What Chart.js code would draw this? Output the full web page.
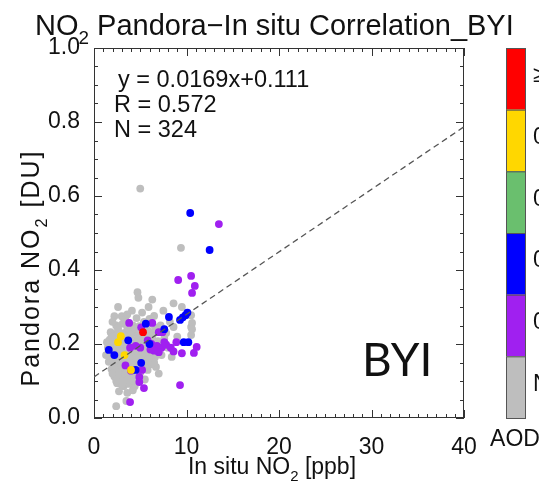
<!DOCTYPE html>
<html>
<head>
<meta charset="utf-8">
<script src="https://cdn.jsdelivr.net/npm/chart.js@4/dist/chart.umd.min.js"></script>
<style>
  body { margin: 0; background: #fff; }
  canvas { display: block; }
</style>
</head>
<body>
<canvas id="chart" width="539" height="481"></canvas>
<script>
// regression stats printed on the plot
const slope = 0.0169;
const intercept = 0.111;
const statLines = ['y = 0.0169x+0.111', 'R = 0.572', 'N = 324'];

const xTicks = [0, 10, 20, 30, 40];
const yTicks = [0, 0.2, 0.4, 0.6, 0.8, 1.0];

// AOD colour bar (top to bottom)
const aodLabels = ['\u22650.5', '0.4', '0.3', '0.2', '0.1', 'NaN'];
const aodColors = ['#ff0000', '#ffd700', '#6abf6e', '#0000ff', '#a020f0', '#bebebe'];

// points per AOD class, [in situ ppb, pandora DU]
const naPoints = [
  [5.0,0.62],[9.4,0.46],[4.7,0.34],[4.8,0.325],[2.6,0.30],[6.3,0.32],[8.6,0.31],[9.5,0.30],
  [2.2,0.275],[3.0,0.275],[6.5,0.276],[10.5,0.278],[5.4,0.26],[10.5,0.246],[8.6,0.246],
  [10.6,0.257],[10.6,0.24],[1.8,0.232],[10.5,0.224],[6.7,0.138],[3.2,0.086],[3.5,0.046],
  [2.4,0.032],[7.5,0.29],[5.9,0.30],[4.1,0.29],[3.6,0.28],[2.2,-0.06],
  [2.4,0.25],[3.1,0.255],[4.2,0.25],[4.9,0.248],[5.8,0.252],[6.6,0.245],[7.2,0.25],
  [1.9,0.228],[2.6,0.235],[3.3,0.23],[3.9,0.238],[4.5,0.232],[5.1,0.226],[5.9,0.234],
  [6.4,0.228],[7.0,0.236],[7.8,0.23],
  [1.7,0.212],[2.3,0.208],[2.9,0.215],[3.5,0.21],[4.1,0.206],[4.7,0.214],[5.3,0.21],
  [5.8,0.205],[6.3,0.214],[6.9,0.208],[7.4,0.20],
  [1.5,0.19],[2.0,0.196],[2.6,0.188],[3.2,0.194],[3.8,0.19],[4.4,0.186],[5.0,0.195],
  [5.5,0.188],[6.1,0.192],[6.8,0.186],
  [1.8,0.172],[2.4,0.168],[3.0,0.176],[3.6,0.17],[4.2,0.165],[4.8,0.174],[5.4,0.168],
  [6.0,0.172],[6.6,0.165],
  [1.6,0.152],[2.2,0.148],[2.8,0.155],[3.4,0.15],[4.0,0.146],[4.6,0.154],[5.6,0.15],[6.2,0.145],
  [1.9,0.132],[2.5,0.128],[3.1,0.135],[3.7,0.13],[4.3,0.126],[5.0,0.122],[5.8,0.13],
  [2.2,0.112],[2.8,0.108],[3.4,0.115],[4.0,0.106],[4.6,0.11],[5.5,0.104],
  [2.5,0.094],[3.0,0.09],[3.8,0.092],[4.4,0.086],
  [2.7,0.072],[3.6,0.068],[4.2,0.075],
  [1.4,0.205],[1.3,0.17],[2.0,0.26],[3.4,0.265],[4.6,0.27],[5.2,0.285],[6.0,0.268],
  [7.6,0.215],[8.0,0.19],[7.3,0.17],[6.5,0.15],[5.2,0.14],[7.0,0.12],[8.2,0.26],[9.0,0.22],[8.4,0.165],
  [2.0,0.22],[2.7,0.222],[3.4,0.22],[4.0,0.224],[4.8,0.222],[5.5,0.22],[6.1,0.222],
  [2.1,0.18],[2.8,0.182],[3.5,0.18],[4.1,0.178],[4.7,0.182],[5.3,0.18],[5.9,0.178],
  [1.8,0.16],[2.5,0.158],[3.2,0.16],[3.9,0.158],[4.5,0.162],[5.1,0.158],[5.9,0.16],
  [2.2,0.14],[2.9,0.142],[3.6,0.14],[4.3,0.138],[4.9,0.142],[5.5,0.138],
  [2.0,0.12],[2.7,0.122],[3.4,0.12],[4.1,0.118],[4.8,0.12],
  [2.4,0.10],[3.1,0.10],[3.7,0.104],[4.3,0.10],
  [2.6,0.242],[3.6,0.245],[4.4,0.242],[5.4,0.24],[3.0,0.20],[3.9,0.20],[4.5,0.205],[2.4,0.20]
];
const aod01Points = [
  [13.5,0.524],[9.1,0.373],[10.5,0.384],[10.9,0.357],[10.6,0.338],[3.8,0.257],[6.3,0.257],
  [7.4,0.232],[8.9,0.205],[11.1,0.192],[10.8,0.176],[3.9,0.19],[4.5,0.195],[5.0,0.19],
  [5.2,0.13],[4.9,0.111],[5.4,0.081],[9.3,0.089],[3.9,0.043],[4.9,0.097],[7.0,0.232],[5.1,0.245],
  [6.2,0.20],[6.8,0.195],[7.3,0.19],[7.8,0.198],[8.3,0.19],[8.6,0.18],[7.0,0.178],[6.5,0.182],
  [7.6,0.205],[5.8,0.21],[6.1,0.185],[9.5,0.175],[3.4,0.142],[4.0,0.128]
];
const aod02Points = [
  [10.4,0.554],[12.5,0.454],[8.1,0.273],[9.3,0.265],[9.6,0.272],[9.9,0.278],[10.1,0.285],
  [3.7,0.21],[9.7,0.205],[10.2,0.205],[1.6,0.184],[2.2,0.17],[5.1,0.149],[4.5,0.13],
  [7.6,0.24],[5.6,0.255],[6.0,0.20]
];
const aod04Points = [[2.9,0.221],[2.6,0.205],[4.0,0.13],[3.3,0.17]];
const aod05Points = [[5.3,0.232]];

const FONT = '"Liberation Sans", Arial, sans-serif';
const toXY = arr => arr.map(([x, y]) => ({ x, y }));

// draws text with subscripts, parts = [[text, isSub], ...]
function richText(ctx, parts, x, y, size, align) {
  const w = parts.reduce((s, [t, sub]) => {
    ctx.font = (sub ? size * 0.65 : size) + 'px ' + FONT;
    return s + ctx.measureText(t).width;
  }, 0);
  let cx = align === 'center' ? x - w / 2 : x;
  parts.forEach(([t, sub]) => {
    ctx.font = (sub ? size * 0.65 : size) + 'px ' + FONT;
    ctx.fillText(t, cx, sub ? y + size * 0.3 : y);
    cx += ctx.measureText(t).width;
  });
}

const decor = {
  id: 'decor',
  beforeDatasetsDraw(chart) {
    const { ctx, chartArea: { left, right, top, bottom }, scales: { x, y } } = chart;
    ctx.save();
    ctx.strokeStyle = '#333';
    ctx.lineWidth = 1;
    ctx.strokeRect(left + 0.5, top + 0.5, right - left - 1, bottom - top - 1);
    ctx.beginPath();
    for (let v = 0; v <= 40; v++) {
      const px = Math.round(x.getPixelForValue(v)) + 0.5;
      const len = v % 10 === 0 ? 8 : 4;
      ctx.moveTo(px, bottom); ctx.lineTo(px, bottom - len);
      ctx.moveTo(px, top); ctx.lineTo(px, top + len);
    }
    for (let i = 0; i <= 20; i++) {
      const py = Math.round(y.getPixelForValue(i * 0.05)) + 0.5;
      const len = i % 4 === 0 ? 8 : 4;
      ctx.moveTo(left, py); ctx.lineTo(left + len, py);
      ctx.moveTo(right, py); ctx.lineTo(right - len, py);
    }
    ctx.stroke();
    ctx.restore();
  },
  afterDraw(chart) {
    const { ctx, chartArea: { top, bottom } } = chart;
    ctx.save();
    ctx.fillStyle = '#111';
    ctx.textBaseline = 'alphabetic';

    richText(ctx, [['NO', false], ['2', true], [' Pandora\u2212In situ Correlation_BYI', false]], 35, 35, 29, 'left');
    richText(ctx, [['In situ NO', false], ['2', true], [' [ppb]', false]], 272, 474, 23, 'center');

    ctx.save();
    ctx.translate(39, 268);
    ctx.rotate(-Math.PI / 2);
    ctx.letterSpacing = '2px';
    richText(ctx, [['Pandora NO', false], ['2', true], [' [DU]', false]], 0, 0, 25, 'center');
    ctx.letterSpacing = '0px';
    ctx.restore();

    ctx.font = '23.5px ' + FONT;
    ctx.fillText(statLines[0], 118, 87);
    ctx.fillText(statLines[1], 114, 112);
    ctx.fillText(statLines[2], 114, 137);

    ctx.font = '46px Lato, "Open Sans", sans-serif';
    ctx.fillText('BYI', 362, 376);

    // colour bar
    const segH = (bottom - top) / aodColors.length;
    aodColors.forEach((c, i) => {
      ctx.fillStyle = c;
      ctx.fillRect(506, top + i * segH, 19, segH);
      ctx.strokeStyle = '#555';
      ctx.strokeRect(506.5, top + i * segH + 0.5, 19, segH);
    });
    ctx.fillStyle = '#111';
    ctx.font = '23px ' + FONT;
    ctx.textBaseline = 'middle';
    aodLabels.forEach((t, i) => ctx.fillText(t, 533, top + (i + 0.5) * segH - 3));
    ctx.textAlign = 'center';
    ctx.fillText('AOD', 515, 440);
    ctx.restore();
  }
};

const pointSet = (data, color, order) => ({
  type: 'scatter',
  data: toXY(data),
  backgroundColor: color,
  borderWidth: 0,
  pointRadius: 3.9,
  clip: false,
  order
});

new Chart(document.getElementById('chart').getContext('2d'), {
  data: {
    datasets: [
      {
        type: 'line',
        data: [{ x: 0, y: intercept }, { x: 40, y: slope * 40 + intercept }],
        borderColor: '#555',
        borderWidth: 1.3,
        borderDash: [6, 4],
        pointRadius: 0,
        order: 0
      },
      pointSet(aod05Points, aodColors[0], 1),
      pointSet(aod04Points, aodColors[1], 2),
      pointSet(aod02Points, aodColors[3], 3),
      pointSet(aod01Points, aodColors[4], 4),
      pointSet(naPoints, aodColors[5], 5)
    ]
  },
  options: {
    responsive: false,
    animation: false,
    events: [],
    layout: { padding: { top: 48, right: 75, left: 0, bottom: 0 } },
    plugins: { legend: { display: false }, tooltip: { enabled: false } },
    scales: {
      x: {
        type: 'linear',
        min: 0, max: 40,
        afterBuildTicks: s => { s.ticks = xTicks.map(v => ({ value: v })); },
        afterFit: s => { s.height = 63; },
        grid: { display: false },
        border: { display: false },
        ticks: { color: '#111', padding: 8, font: { family: FONT, size: 23 } }
      },
      y: {
        type: 'linear',
        min: 0, max: 1,
        afterBuildTicks: s => { s.ticks = yTicks.map(v => ({ value: v })); },
        afterFit: s => { s.width = 94; },
        grid: { display: false },
        border: { display: false },
        ticks: {
          color: '#111', padding: 6, font: { family: FONT, size: 23 },
          callback: v => v.toFixed(1)
        }
      }
    }
  },
  plugins: [decor]
});
</script>
</body>
</html>
